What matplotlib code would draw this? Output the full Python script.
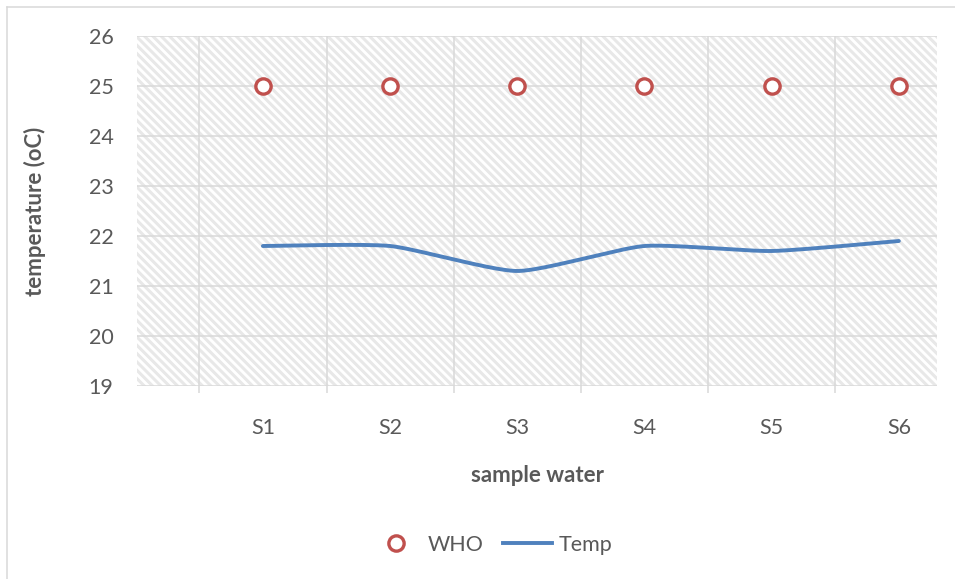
import numpy as np
import matplotlib
matplotlib.use("Agg")
import matplotlib.pyplot as plt
from matplotlib.patches import Rectangle
from matplotlib.lines import Line2D

categories = ["S1", "S2", "S3", "S4", "S5", "S6"]
who_values = [25, 25, 25, 25, 25, 25]
temp_values = [21.8, 21.8, 21.3, 21.8, 21.7, 21.9]
y_ticks = [19, 20, 21, 22, 23, 24, 25, 26]

TXT = "#595959"
GRID = "#d9d9d9"
plt.rcParams['font.family'] = ['Lato', 'DejaVu Sans']
plt.rcParams['hatch.linewidth'] = 2.2

W, H = 955, 579
fig = plt.figure(figsize=(W / 100, H / 100), dpi=100)
ax = fig.add_axes([137 / W, 193 / H, 800 / W, 350 / H])

x = np.arange(1, len(categories) + 1)

# hatched background
ax.add_patch(Rectangle((0, 0), 1, 1, transform=ax.transAxes, facecolor="white",
                       edgecolor="#e8e8e8", hatch="\\\\\\\\", linewidth=0, zorder=0))

# smoothed line (bezier smoothing, like Excel)
def smooth(xs, ys, k=10, n=40):
    xs = np.asarray(xs, float); ys = np.asarray(ys, float)
    px = np.concatenate([[xs[0]], xs, [xs[-1]]])
    py = np.concatenate([[ys[0]], ys, [ys[-1]]])
    outx, outy = [], []
    t = np.linspace(0, 1, n)
    for i in range(1, len(px) - 2):
        p0 = np.array([px[i], py[i]]); p3 = np.array([px[i + 1], py[i + 1]])
        c1 = p0 + (np.array([px[i + 1], py[i + 1]]) - np.array([px[i - 1], py[i - 1]])) / k
        c2 = p3 - (np.array([px[i + 2], py[i + 2]]) - np.array([px[i], py[i]])) / k
        b = ((1 - t) ** 3)[:, None] * p0 + (3 * (1 - t) ** 2 * t)[:, None] * c1 + \
            (3 * (1 - t) * t ** 2)[:, None] * c2 + (t ** 3)[:, None] * p3
        outx.extend(b[:, 0]); outy.extend(b[:, 1])
    return outx, outy

sx, sy = smooth(x, temp_values)
ax.plot(sx, sy, color="#4f81bd", lw=2.8, solid_capstyle="round", zorder=3)
ax.plot(x, who_values, linestyle="none", marker="o", markersize=11,
        markerfacecolor="white", markeredgecolor="#c0504d", markeredgewidth=2.4, zorder=4)

ax.set_xlim(0.01, 6.30)
ax.set_ylim(19, 26)
ax.set_yticks(y_ticks)
ax.set_xticks(x)
ax.set_xticklabels(categories)
ax.set_xticks(np.arange(0.5, 6.0, 1.0), minor=True)

for s in ax.spines.values():
    s.set_visible(False)
ax.grid(True, which="major", axis="y", color=GRID, lw=1.1, zorder=1)
ax.grid(True, which="minor", axis="x", color=GRID, lw=1.1, zorder=1)
ax.set_axisbelow(True)
ax.tick_params(axis="x", which="major", length=0, pad=23, labelsize=15.5, labelcolor=TXT)
ax.tick_params(axis="x", which="minor", length=5, width=1.1, color=GRID, direction="out")
ax.tick_params(axis="y", length=0, pad=17, labelsize=15.5, labelcolor=TXT)

fig.text(537 / W, 1 - 476 / H, "sample water", ha="center", va="center",
         fontsize=16, fontweight="bold", color=TXT)
fig.text(35 / W, 1 - 211 / H, "temperature (oC)", ha="center", va="center",
         rotation=90, fontsize=16, fontweight="bold", color=TXT)

handles = [Line2D([], [], linestyle="none", marker="o", markersize=11, markerfacecolor="white",
                  markeredgecolor="#c0504d", markeredgewidth=2.4),
           Line2D([], [], color="#4f81bd", lw=2.8)]
fig.legend(handles, ["WHO", "Temp"], loc="center", bbox_to_anchor=(492 / W, 1 - 545 / H),
           ncol=2, frameon=False, fontsize=15.5, labelcolor=TXT, handlelength=2.3,
           columnspacing=0.9, handletextpad=0.3, borderpad=0, borderaxespad=0)

# chart border
fig.add_artist(Line2D([6.5 / W, 6.5 / W], [0, 1 - 7 / H], color=GRID, lw=1.1))
fig.add_artist(Line2D([6.5 / W, 1], [1 - 7 / H, 1 - 7 / H], color=GRID, lw=1.1))

fig.savefig("out.png", dpi=100)
